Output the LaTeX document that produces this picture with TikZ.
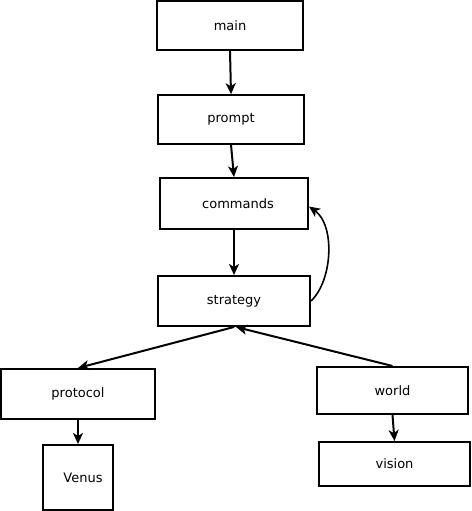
\documentclass[tikz,border=0pt]{standalone}
\usepackage{fontspec}
\setmainfont{DejaVu Sans}
\usetikzlibrary{arrows.meta}
\begin{document}
\begin{tikzpicture}[x=1pt,y=-1pt,
  box/.style={draw=black,line width=2pt,inner sep=0pt,font=\fontsize{13}{15}\selectfont},
  arr/.style={line width=2pt,-{Stealth[length=11pt,width=10pt,inset=3pt]}}]
\useasboundingbox (0,0) rectangle (471,511);
\node[box,minimum width=146pt,minimum height=49pt] (main) at (230,25.5) {main};
\node[box,minimum width=146pt,minimum height=49pt,line width=1.5pt] (prompt) at (231,119.5) {prompt};
\node[box,minimum width=148pt,minimum height=51pt] (commands) at (234,203.5) {\hspace*{8pt}commands};
\node[box,minimum width=152pt,minimum height=50pt] (strategy) at (234,301) {strategy};
\node[box,minimum width=154pt,minimum height=50pt] (protocol) at (78,394) {protocol};
\node[box,minimum width=151pt,minimum height=47pt] (world) at (392.5,390.5) {world};
\node[box,minimum width=70pt,minimum height=65pt] (venus) at (78,477.5) {\hspace*{10pt}Venus};
\node[box,minimum width=151pt,minimum height=44pt] (vision) at (394.5,464) {vision};
\draw[arr] (main.south) -- (prompt.north);
\draw[arr] (prompt.south) -- (commands.north);
\draw[arr] (commands.south) -- (strategy.north);
\draw[arr,line width=1.6pt] (strategy.east) .. controls (333,280) and (335,225) .. ([yshift=-3pt]commands.east);
\draw[arr] (strategy.south) -- (protocol.north);
\draw[arr] (world.north) -- ([xshift=2pt]strategy.south);
\draw[arr] (protocol.south) -- (venus.north);
\draw[arr] (world.south) -- (vision.north);
\end{tikzpicture}
\end{document}
